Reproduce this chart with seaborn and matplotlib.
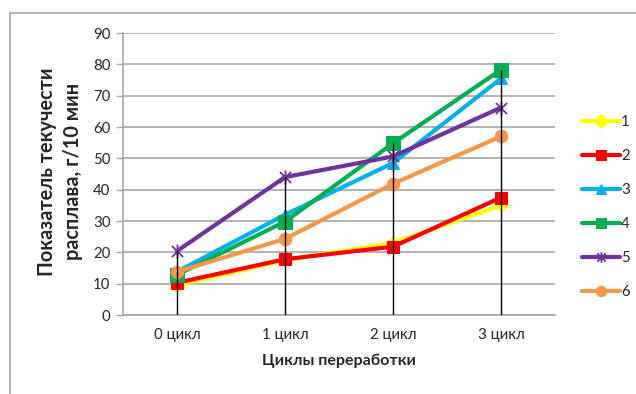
import numpy as np
import pandas as pd
import matplotlib
matplotlib.use("Agg")
import matplotlib.pyplot as plt
from matplotlib.path import Path
from matplotlib.patches import Rectangle
import seaborn as sns

cycles = ["0 цикл", "1 цикл", "2 цикл", "3 цикл"]
series_names = ["1", "2", "3", "4", "5", "6"]
s1 = [9.4, 17.5, 23.0, 35.0]
s2 = [10.3, 17.8, 21.8, 37.5]
s3 = [13.8, 32.0, 48.5, 75.5]
s4 = [12.8, 29.8, 54.8, 78.3]
s5 = [20.4, 44.0, 50.6, 66.2]
s6 = [13.8, 24.3, 41.9, 57.0]
all_series = [s1, s2, s3, s4, s5, s6]

colors = ["#FFFF00", "#FF0000", "#00B0F0", "#00B050", "#7030A0", "#F79646"]

# star marker: an "x" crossed by a vertical stroke
star = Path(
    [(-1, -1), (1, 1), (-1, 1), (1, -1), (0, -1.25), (0, 1.25)],
    [Path.MOVETO, Path.LINETO, Path.MOVETO, Path.LINETO, Path.MOVETO, Path.LINETO],
)
markers = ["D", "s", "^", "s", star, "o"]
msizes = [7, 9, 9, 9.5, 10, 9]

sns.set_theme(style="white")
plt.rcParams["font.family"] = ["Lato", "DejaVu Sans"]

fig = plt.figure(figsize=(6.36, 3.94), dpi=100)
ax = fig.add_axes([0.1934, 0.2005, 0.6792, 0.7157])

xpos = np.arange(len(cycles))
for name, vals, c, m, ms in zip(series_names, all_series, colors, markers, msizes):
    df = pd.DataFrame({"x": xpos, "y": vals})
    kw = dict(markeredgecolor=c, markerfacecolor=c)
    if m is star:
        kw = dict(markeredgecolor=c, markerfacecolor="none", markeredgewidth=1.3)
    sns.lineplot(data=df, x="x", y="y", ax=ax, color=c, lw=3, marker=m,
                 markersize=ms, label=name, zorder=3, **kw)

# drop lines from each category's highest point down to the axis
tops = np.max(np.array(all_series), axis=0)
ax.vlines(xpos, 0, tops, color="black", lw=1, zorder=5)

ax.set_xlim(-0.5, 3.5)
ax.set_ylim(0, 90)
ax.set_yticks(np.arange(0, 91, 10))
ax.set_xticks(xpos)
ax.set_xticklabels(cycles)
ax.yaxis.grid(True, color="#A6A6A6", lw=1.2)
ax.xaxis.grid(False)
for side in ["top", "right"]:
    ax.spines[side].set_visible(False)
for side in ["left", "bottom"]:
    ax.spines[side].set_color("#A6A6A6")
    ax.spines[side].set_linewidth(1.2)
ax.tick_params(axis="y", length=5, color="#A6A6A6", width=1, labelsize=10.8,
               left=True, pad=4)
ax.tick_params(axis="x", length=0, labelsize=10.8, pad=9)

ax.set_xlabel("Циклы переработки", fontsize=11.5, fontweight="bold", labelpad=9)
ax.set_ylabel("")
fig.text(60 / 636, 1 - 171.5 / 394, "Показатель текучести\nрасплава, г/10 мин",
         rotation=90, ha="center", va="center", multialignment="center",
         fontsize=14.3, fontweight="bold", linespacing=1.35)

leg = ax.legend(loc="center left", bbox_to_anchor=(0.906, 0.4746),
                bbox_transform=fig.transFigure, frameon=False, fontsize=10.8,
                handlelength=2.5, labelspacing=1.33, handletextpad=0.1,
                borderaxespad=0)
for h in leg.legend_handles:
    h.set_markersize(7.5)

# outer chart frame (left and top edges)
fig.patches.append(Rectangle((9.5 / 636, -0.2), 1.2, 1.2 - 13 / 394,
                             transform=fig.transFigure, fill=False,
                             edgecolor="#B4B4B4", lw=1.5, clip_on=False))

fig.savefig("out.png", dpi=100)
